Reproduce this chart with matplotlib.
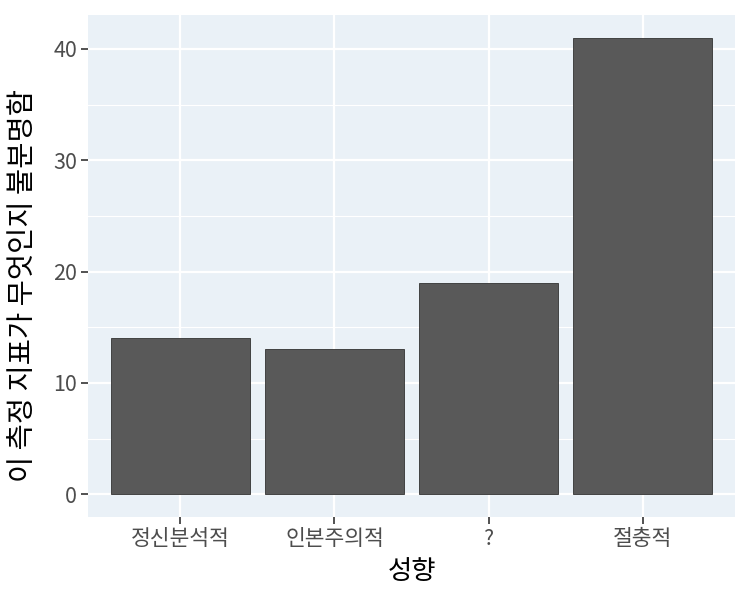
import numpy as np
import matplotlib
matplotlib.use('Agg')
from matplotlib import pyplot as plt

plt.rcParams['font.family'] = ['Noto Sans CJK KR', 'DejaVu Sans']

categories = ['정신분석적', '인본주의적', '?', '절충적']
counts = [14, 13, 19, 41]

fig = plt.figure(figsize=(7.5, 6), dpi=100)
ax = fig.add_axes([88 / 750, 1 - 517 / 600, (735 - 88) / 750, (517 - 15) / 600])

ax.set_facecolor('#EAF1F7')
x = np.arange(len(categories))
ax.bar(x, counts, width=0.9, color='#595959', edgecolor='#333333', linewidth=0.6, zorder=3)

ymax = max(counts)
ax.set_ylim(-0.05 * ymax, ymax * 1.05)
ax.set_xlim(-0.6, len(categories) - 1 + 0.6)

ax.set_yticks([0, 10, 20, 30, 40])
ax.set_yticks([5, 15, 25, 35], minor=True)
ax.set_xticks(x)
ax.set_xticklabels(categories)

ax.grid(which='major', color='white', linewidth=1.6, zorder=0)
ax.grid(which='minor', axis='y', color='white', linewidth=0.8, zorder=0)
ax.set_axisbelow(True)
for s in ax.spines.values():
    s.set_visible(False)

ax.tick_params(axis='both', which='major', length=5, width=1.2, color='#333333',
               labelsize=15.5, labelcolor='#4D4D4D', pad=3)
ax.tick_params(axis='both', which='minor', length=0)

ax.set_xlabel('성향', fontsize=19, color='black', labelpad=6)
ax.set_ylabel('이 측정 지표가 무엇인지 불분명함', fontsize=20.5, color='black')
ax.yaxis.set_label_coords(-0.078, 0.462)

fig.savefig('out.png', dpi=100)
